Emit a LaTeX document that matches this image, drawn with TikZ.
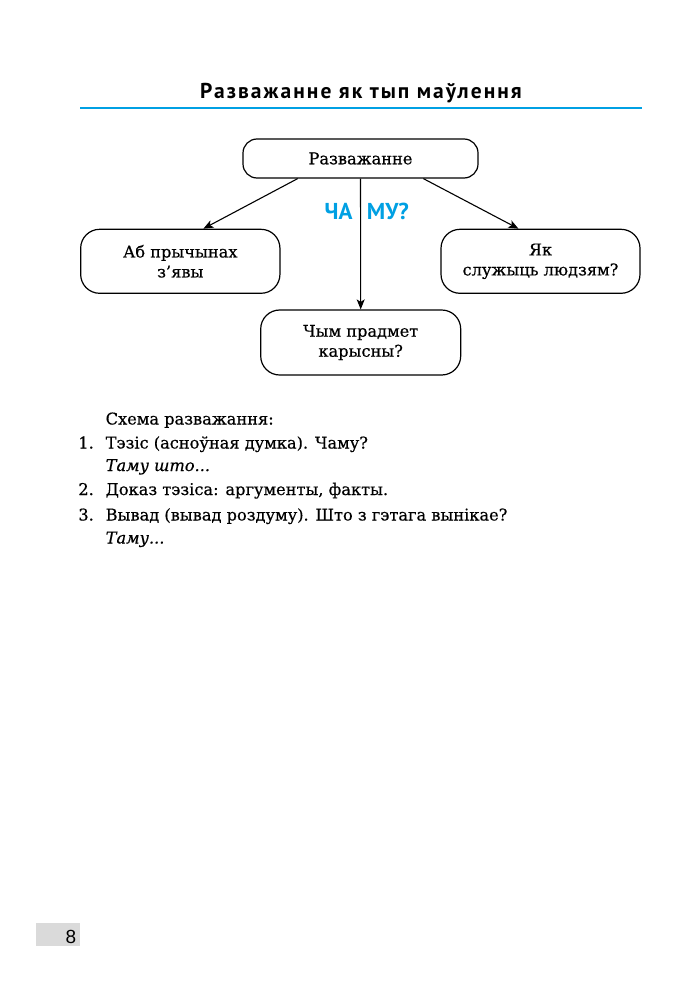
\documentclass[tikz,border=0pt]{standalone}
\usepackage{fontspec}
\setmainfont{DejaVu Serif}[FakeBold=0.5]
\newfontfamily\titlefont{PT Sans}
\newfontfamily\numfont{Liberation Sans}
\usetikzlibrary{arrows.meta,calc}
\definecolor{cyanline}{RGB}{0,160,227}
\definecolor{pagegray}{RGB}{218,218,218}
\begin{document}
\begin{tikzpicture}[x=1pt,y=-1pt,
  box/.style={draw, line width=1.2pt, rounded corners=19pt, align=center,
    font=\fontsize{16.2}{20}\selectfont, inner sep=0pt},
  arr/.style={-{Stealth[length=10pt,width=8pt,inset=2.5pt]}, line width=1.1pt},
  lt/.style={anchor=base west, font=\fontsize{16.2}{20}\selectfont, inner sep=0pt},
  num/.style={anchor=base east, font=\fontsize{16.2}{20}\selectfont, inner sep=0pt},
  blue/.style={text=cyanline, font=\titlefont\bfseries\fontsize{23}{27}\selectfont, inner sep=0pt}]
\useasboundingbox (0,0) rectangle (675,1000);
% title
\node[anchor=base, inner sep=0pt, font=\titlefont\bfseries\fontsize{21.5}{26}\selectfont\addfontfeature{LetterSpace=9.5}] (title) at (361,98.5)
  {Разважанне як тып маўлення};
\coordinate (rl) at (80,108);
\coordinate (rr) at (642,108);
\draw[cyanline, line width=2pt] (rl) -- (rr);
% boxes
\node[box, rounded corners=14pt, minimum width=235pt, minimum height=39pt] (root) at (360.5,158.5) {Разважанне};
\node[box, minimum width=199.3pt, minimum height=64pt] (left) at (180.3,261.3) {Аб прычынах\\з’явы};
\node[box, minimum width=199pt, minimum height=64pt] (right) at (540.5,261.3) {Як\\служыць людзям?};
\node[box, minimum width=200pt, minimum height=65pt] (bottom) at (360.7,342.5) {Чым прадмет\\карысны?};
% arrows
\draw[arr] ($(root.south west)!0.234!(root.south east)$) -- ($(left.north west)!0.615!(left.north east)$);
\draw[arr] ($(root.south west)!0.766!(root.south east)$) -- ($(right.north west)!0.39!(right.north east)$);
\draw[arr] (root.south) -- (bottom.north);
% ЧА МУ?
\node[blue, anchor=base east] (cha) at (352.7,219.3) {ЧА};
\node[blue, anchor=base west] (mu) at (366.7,219.3) {МУ?};
% list
\node[lt] (schema) at (105.5,424.5) {Схема разважання:};
\node[num] (n1) at (94,448.5) {1.};
\node[lt] (i1) at (105.5,448.5) {Тэзіс (асноўная думка). Чаму?};
\node[lt] (i1b) at (105.5,471) {\itshape Таму што...};
\node[num] (n2) at (94,495) {2.};
\node[lt] (i2) at (105.5,495) {Доказ тэзіса: аргументы, факты.};
\node[num] (n3) at (94,520.5) {3.};
\node[lt] (i3) at (105.5,520.5) {Вывад (вывад роздуму). Што з гэтага вынікае?};
\node[lt] (i3b) at (105.5,543.5) {\itshape Таму...};
% page number
\fill[pagegray] (36,923) rectangle (80,946);
\node[anchor=base east, inner sep=0pt, font=\numfont\fontsize{19}{22}\selectfont] (pg) at (76.5,943) {8};
\end{tikzpicture}
\end{document}
